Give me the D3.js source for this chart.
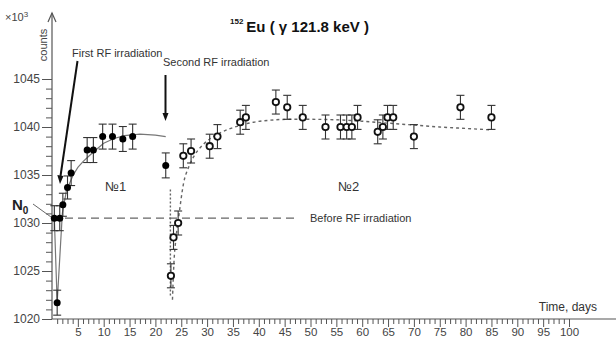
<!DOCTYPE html>
<html>
<head>
<meta charset="utf-8">
<script src="https://cdn.jsdelivr.net/npm/d3@7"></script>
<style>
  body { margin: 0; background: #fff; }
  svg { font-family: "Liberation Sans", Arial, sans-serif; }
  .tick text { fill: #444; font-size: 12px; }
  .xaxis .tick text { font-size: 11.5px; }
  .tick line, .domain { stroke: #555; }
</style>
</head>
<body>
<svg id="chart" width="616" height="340"></svg>
<script>
// Data (time in days, counts in units of 10^3)
const series1Days = [0.45, 1.5, 1.0, 2.1, 3.0, 3.7, 6.8, 8.0, 9.8, 11.7, 13.7, 15.6, 22.0];
const series1Counts = [1030.5, 1030.5, 1021.7, 1031.9, 1033.7, 1035.2, 1037.6, 1037.6, 1039.0, 1039.0, 1038.75, 1039.0, 1036.0];
const series1Err = [1.3, 1.3, 1.3, 1.2, 1.2, 1.3, 1.3, 1.3, 1.3, 1.3, 1.3, 1.3, 1.3];

const series2Days = [23.0, 23.5, 24.4, 25.4, 26.9, 30.5, 32.0, 36.4, 37.5, 43.3, 45.5, 48.5, 52.9,
  55.8, 57.0, 58.0, 59.1, 63.0, 64.0, 64.9, 66.0, 70.0, 79.0, 85.0];
const series2Counts = [1024.5, 1028.5, 1030.0, 1037.0, 1037.5, 1038.0, 1039.0, 1040.5, 1041.0, 1042.6, 1042.05, 1041.0, 1040.0,
  1040.0, 1040.0, 1040.0, 1041.0, 1039.5, 1040.0, 1041.0, 1041.0, 1039.0, 1042.05, 1041.0];
const series2Err = 1.25;

// Fitted curves
const fit1Days = [0.45, 1.0, 2.0, 2.8, 4.1, 5, 6, 7, 8, 10, 12, 14, 17, 20, 22];
const fit1Counts = [1030.5, 1021.7, 1031.0, 1033.4, 1035.0, 1035.8, 1036.4, 1036.9, 1037.4, 1038.3, 1038.8, 1039.1, 1039.25, 1039.15, 1039.0];

const fit2Days = [23.3, 23.6, 24.0, 24.6, 25.4, 26.5, 27.5, 29.3, 31.5, 33.8, 36, 39, 42, 46, 50, 55, 60, 65, 70, 75, 80, 85];
const fit2Counts = [1022.0, 1026.0, 1028.5, 1031.0, 1034.0, 1035.9, 1037.0, 1038.2, 1039.1, 1039.7, 1040.1, 1040.5, 1040.7, 1040.8, 1040.8, 1040.75, 1040.6, 1040.4, 1040.2, 1040.0, 1039.85, 1039.7];

const dropDays = [22.9, 22.9];
const dropCounts = [1033.5, 1022.3];

const baselineCount = 1030.5;
const baselineDays = [0, 47.5];

const xMajor = d3.range(5, 101, 5);
const xMinor = d3.range(1, 100).filter((d) => d % 5 !== 0);
const yMajor = d3.range(1020, 1046, 5);
const yMinor = d3.range(1021, 1046).filter((d) => d % 5 !== 0);

const svg = d3.select('#chart');
const x = d3.scaleLinear([0, 100], [52, 569]);
const y = d3.scaleLinear([1020, 1045], [319, 79]);

// Axes
svg.append('g')
  .attr('transform', 'translate(52,0)')
  .call(d3.axisLeft(y).tickValues(yMinor).tickSize(6).tickFormat(''))
  .call((g) => g.select('.domain').remove());
svg.append('g')
  .attr('transform', 'translate(52,0)')
  .call(d3.axisLeft(y).tickValues(yMajor).tickSize(10).tickPadding(2).tickFormat(d3.format('d')))
  .call((g) => g.select('.domain').remove());

svg.append('g')
  .attr('transform', 'translate(0,319)')
  .call(d3.axisBottom(x).tickValues(xMinor).tickSize(5).tickFormat(''))
  .call((g) => g.select('.domain').remove());
svg.append('g')
  .attr('class', 'xaxis')
  .attr('transform', 'translate(0,319)')
  .call(d3.axisBottom(x).tickValues(xMajor).tickSize(8).tickPadding(1))
  .call((g) => g.select('.domain').remove());

// axis lines
svg.append('line').attr('x1', 52).attr('x2', 616).attr('y1', 319).attr('y2', 319)
  .attr('stroke', '#555').attr('stroke-width', 1.2);
svg.append('line').attr('x1', 52).attr('x2', 52).attr('y1', 319).attr('y2', 13)
  .attr('stroke', '#555').attr('stroke-width', 1.2);
svg.append('path').attr('d', 'M48,22 L52,13 L56,22').attr('fill', 'none')
  .attr('stroke', '#555').attr('stroke-width', 1.2);

svg.append('text').attr('x', 5).attr('y', 21).attr('font-size', 11).attr('fill', '#444')
  .html('×10<tspan dy="-4" font-size="8">3</tspan>');
svg.append('text').attr('transform', 'translate(47,45) rotate(-90)')
  .attr('text-anchor', 'middle').attr('font-size', 11).attr('fill', '#444').text('counts');
svg.append('text').attr('x', 597).attr('y', 311).attr('text-anchor', 'end')
  .attr('font-size', 12).attr('fill', '#333').text('Time, days');

// Title
const title = svg.append('text').attr('x', 230).attr('y', 32).attr('font-weight', 'bold').attr('fill', '#111');
title.append('tspan').attr('font-size', 8).attr('dy', -8).text('152');
title.append('tspan').attr('font-size', 15).attr('dx', 3).attr('dy', 8).text('Eu ( γ 121.8 keV )');

// Baseline
svg.append('line')
  .attr('x1', x(baselineDays[0])).attr('x2', x(baselineDays[1]))
  .attr('y1', y(baselineCount)).attr('y2', y(baselineCount))
  .attr('stroke', '#666').attr('stroke-width', 1.2).attr('stroke-dasharray', '8,5');
svg.append('text').attr('x', 310).attr('y', 222).attr('font-size', 11).attr('fill', '#333')
  .text('Before RF irradiation');

// Curves
const line = d3.line().x((d) => x(d[0])).y((d) => y(d[1]));
svg.append('path')
  .attr('d', line(d3.zip(fit1Days, fit1Counts)))
  .attr('fill', 'none').attr('stroke', '#777').attr('stroke-width', 1.2);
svg.append('path')
  .attr('d', d3.line().curve(d3.curveMonotoneX).x((d) => x(d[0])).y((d) => y(d[1]))(d3.zip(fit2Days, fit2Counts)))
  .attr('fill', 'none').attr('stroke', '#666').attr('stroke-width', 1.4).attr('stroke-dasharray', '3,3');
svg.append('path')
  .attr('d', line(d3.zip(dropDays, dropCounts)))
  .attr('fill', 'none').attr('stroke', '#666').attr('stroke-width', 1.4).attr('stroke-dasharray', '2,2');

// Error bars
function errorBars(pts) {
  const g = svg.append('g').attr('stroke', '#333').attr('stroke-width', 1.1);
  pts.forEach(([t, c, e]) => {
    g.append('line').attr('x1', x(t)).attr('x2', x(t)).attr('y1', y(c - e)).attr('y2', y(c + e));
    g.append('line').attr('x1', x(t) - 4).attr('x2', x(t) + 4).attr('y1', y(c - e)).attr('y2', y(c - e));
    g.append('line').attr('x1', x(t) - 4).attr('x2', x(t) + 4).attr('y1', y(c + e)).attr('y2', y(c + e));
  });
}
const pts1 = series1Days.map((t, i) => [t, series1Counts[i], series1Err[i]]);
const pts2 = series2Days.map((t, i) => [t, series2Counts[i], series2Err]);
errorBars(pts1);
errorBars(pts2);

svg.append('g').selectAll('circle').data(pts1).join('circle')
  .attr('cx', (d) => x(d[0])).attr('cy', (d) => y(d[1])).attr('r', 3.5).attr('fill', '#000');
svg.append('g').selectAll('circle').data(pts2).join('circle')
  .attr('cx', (d) => x(d[0])).attr('cy', (d) => y(d[1])).attr('r', 3.2)
  .attr('fill', '#fff').attr('stroke', '#111').attr('stroke-width', 1.8);

// Annotations
svg.append('text').attr('x', 72).attr('y', 57).attr('font-size', 11).attr('fill', '#333')
  .text('First RF irradiation');
svg.append('text').attr('x', 163).attr('y', 66).attr('font-size', 11).attr('fill', '#333')
  .text('Second RF irradiation');

svg.append('line').attr('x1', 77.5).attr('y1', 61).attr('x2', 60.5).attr('y2', 176)
  .attr('stroke', '#111').attr('stroke-width', 2);
svg.append('path').attr('d', 'M57.3,175 L60,184 L63.5,176 Z').attr('fill', '#111');
svg.append('line').attr('x1', 165.5).attr('y1', 75).attr('x2', 165.5).attr('y2', 114)
  .attr('stroke', '#111').attr('stroke-width', 2);
svg.append('path').attr('d', 'M162.5,113 L165.5,121 L168.5,113 Z').attr('fill', '#111');

const n0 = svg.append('text').attr('x', 12).attr('y', 210).attr('font-weight', 'bold').attr('fill', '#222');
n0.append('tspan').attr('font-size', 15).text('N');
n0.append('tspan').attr('font-size', 10).attr('dy', 4).text('0');
svg.append('line').attr('x1', 33).attr('y1', 204).attr('x2', 51).attr('y2', 217)
  .attr('stroke', '#666').attr('stroke-width', 1);

svg.append('text').attr('x', 105).attr('y', 191).attr('font-size', 13).attr('fill', '#333').text('№1');
svg.append('text').attr('x', 338).attr('y', 191).attr('font-size', 13).attr('fill', '#333').text('№2');
</script>
</body>
</html>
